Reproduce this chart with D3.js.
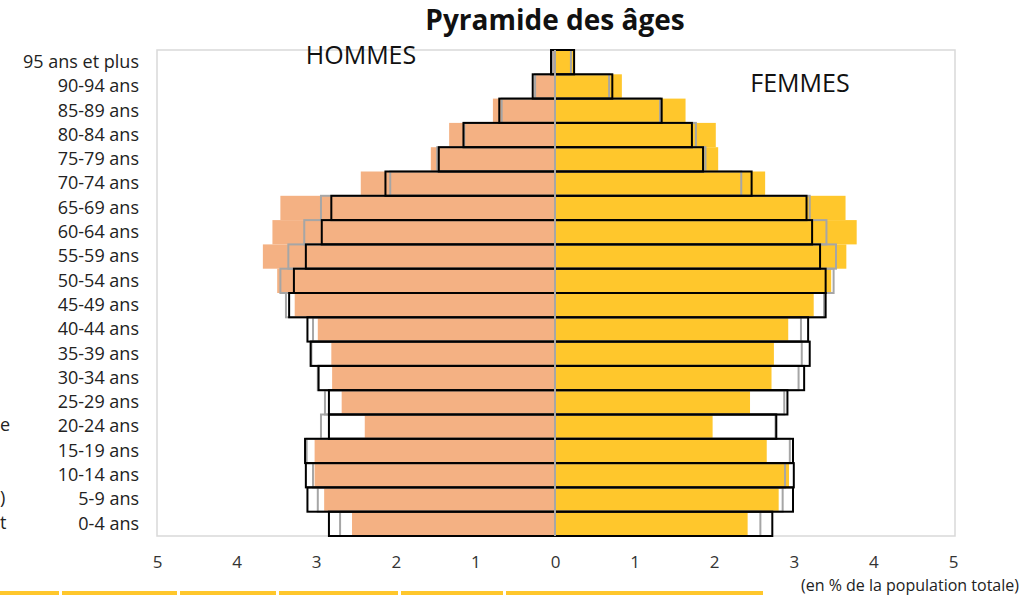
<!DOCTYPE html>
<html>
<head>
<meta charset="utf-8">
<script src="https://cdn.jsdelivr.net/npm/d3@7"></script>
<style>
  body { margin: 0; background: #fff; overflow: hidden; }
  svg { display: block; font-family: "Open Sans", "Noto Sans", sans-serif; }
</style>
</head>
<body>
<svg id="chart"></svg>
<script>
// Age groups, top to bottom
const ages = ["95 ans et plus", "90-94 ans", "85-89 ans", "80-84 ans", "75-79 ans", "70-74 ans",
  "65-69 ans", "60-64 ans", "55-59 ans", "50-54 ans", "45-49 ans", "40-44 ans", "35-39 ans",
  "30-34 ans", "25-29 ans", "20-24 ans", "15-19 ans", "10-14 ans", "5-9 ans", "0-4 ans"];

// Filled bars (% of total population)
const hommes = [0.04, 0.26, 0.78, 1.33, 1.56, 2.44, 3.45, 3.55, 3.67, 3.49, 3.27, 2.98, 2.81, 2.80, 2.68, 2.39, 3.02, 3.02, 2.90, 2.55];
const femmes = [0.24, 0.84, 1.64, 2.02, 2.05, 2.64, 3.65, 3.79, 3.66, 3.47, 3.25, 2.93, 2.75, 2.72, 2.45, 1.98, 2.66, 2.94, 2.81, 2.42];

// Black outlined bars
const hommesNoir = [0.05, 0.28, 0.70, 1.15, 1.46, 2.13, 2.81, 2.93, 3.13, 3.28, 3.34, 3.11, 3.07, 2.97, 2.84, 2.84, 3.14, 3.13, 3.11, 2.84];
const femmesNoir = [0.24, 0.72, 1.34, 1.72, 1.86, 2.47, 3.16, 3.23, 3.33, 3.40, 3.40, 3.18, 3.20, 3.13, 2.92, 2.78, 2.99, 3.00, 2.99, 2.73];

// Gray outlined bars
const hommesGris = [0.03, 0.25, 0.67, 1.14, 1.48, 2.07, 2.94, 3.15, 3.35, 3.45, 3.38, 3.04, 3.06, 2.98, 2.89, 2.94, 3.12, 3.04, 2.98, 2.70];
const femmesGris = [0.20, 0.68, 1.32, 1.77, 1.89, 2.34, 3.20, 3.41, 3.53, 3.50, 3.38, 3.09, 3.10, 3.06, 2.88, 2.77, 2.95, 2.89, 2.86, 2.58];

const xTicks = [-5, -4, -3, -2, -1, 0, 1, 2, 3, 4, 5];

// what is left visible of a legend cut off at the left edge
const legendeCoupee = ["e", ")", "t"];
// yellow band cut off at the bottom edge
const bandeauSegments = [[0, 59], [62, 177], [180, 276], [279, 398], [401, 503], [506, 763]];

const W = 1033, H = 595;
const plotLeft = 157, plotRight = 953, plotTop = 50, plotBottom = 536;

const svg = d3.select('#chart')
  .attr('width', W)
  .attr('height', H);

const x = d3.scaleLinear().domain([-5, 5]).range([plotLeft, plotRight]);
const y = d3.scaleBand().domain(ages).range([plotTop, plotBottom]).padding(0);

// Title
svg.append('text')
  .attr('x', 555).attr('y', 30)
  .attr('text-anchor', 'middle')
  .style('font-size', '28px').style('font-weight', 'bold').style('fill', '#111')
  .text('Pyramide des âges');

// Plot frame
svg.append('rect')
  .attr('x', plotLeft).attr('y', plotTop)
  .attr('width', plotRight - plotLeft + 2).attr('height', plotBottom - plotTop)
  .attr('fill', 'none').attr('stroke', '#d9d9d9').attr('stroke-width', 1.5);

const g = svg.append('g');

// Filled bars
g.selectAll('rect.h').data(hommes).enter().append('rect')
  .attr('x', d => x(-d)).attr('y', (d, i) => y(ages[i]))
  .attr('width', d => x(0) - x(-d)).attr('height', y.bandwidth())
  .attr('fill', '#f4b183');

g.selectAll('rect.f').data(femmes).enter().append('rect')
  .attr('x', x(0)).attr('y', (d, i) => y(ages[i]))
  .attr('width', d => x(d) - x(0)).attr('height', y.bandwidth())
  .attr('fill', '#ffc72c');

// Outline bars
function outlines(vals, sign, color) {
  g.append('g').selectAll('rect').data(vals).enter().append('rect')
    .attr('x', d => sign < 0 ? x(-d) : x(0))
    .attr('y', (d, i) => y(ages[i]))
    .attr('width', d => Math.abs(x(sign * d) - x(0)))
    .attr('height', y.bandwidth())
    .attr('fill', 'none')
    .attr('stroke', color)
    .attr('stroke-width', 2);
}
outlines(hommesGris, -1, '#a6a6a6');
outlines(femmesGris, 1, '#a6a6a6');
outlines(hommesNoir, -1, '#000');
outlines(femmesNoir, 1, '#000');

// Center line
svg.append('line')
  .attr('x1', x(0)).attr('x2', x(0))
  .attr('y1', plotTop).attr('y2', plotBottom)
  .attr('stroke', '#a6a6a6').attr('stroke-width', 2);

// X axis
const xAxis = svg.append('g')
  .attr('transform', `translate(0,${plotBottom + 17})`)
  .call(d3.axisBottom(x).tickValues(xTicks).tickFormat(d => Math.abs(d)).tickSize(0));
xAxis.select('.domain').remove();
xAxis.selectAll('text').style('font-size', '17px').style('fill', '#333')
  .style('font-family', '"Open Sans", sans-serif');

// Y axis labels
const yAxis = svg.append('g')
  .attr('transform', `translate(139,0)`)
  .call(d3.axisLeft(y).tickSize(0).tickPadding(0));
yAxis.select('.domain').remove();
yAxis.selectAll('text').style('font-size', '18px').style('fill', '#222')
  .style('font-family', '"Open Sans", sans-serif');

// Sex labels
svg.append('text').attr('x', 361).attr('y', 64).attr('text-anchor', 'middle')
  .style('font-size', '25px').style('fill', '#111').text('HOMMES');
svg.append('text').attr('x', 800).attr('y', 92).attr('text-anchor', 'middle')
  .style('font-size', '25px').style('fill', '#111').text('FEMMES');

// Unit note
svg.append('text').attr('x', 1019).attr('y', 591).attr('text-anchor', 'end')
  .style('font-size', '16px').style('fill', '#222').text('(en % de la population totale)');

// Cut-off legend at left edge
svg.selectAll('text.leg').data(legendeCoupee).enter().append('text')
  .attr('x', 0).attr('y', (d, i) => [431, 504, 529][i])
  .style('font-size', '18px').style('fill', '#222')
  .text(d => d);

// Yellow band at the bottom edge
svg.selectAll('rect.band').data(bandeauSegments).enter().append('rect')
  .attr('x', d => d[0]).attr('y', 591)
  .attr('width', d => d[1] - d[0]).attr('height', 6)
  .attr('fill', '#ffc72c');
</script>
</body>
</html>
